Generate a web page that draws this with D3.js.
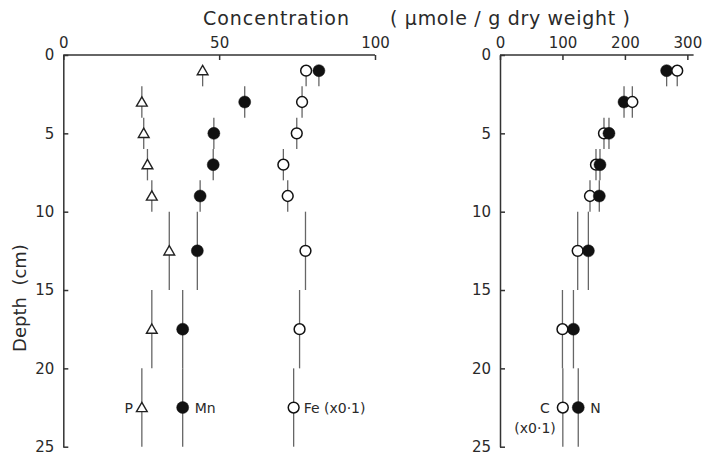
<!DOCTYPE html>
<html>
<head>
<meta charset="utf-8">
<script src="https://cdn.jsdelivr.net/npm/d3@7"></script>
<style>
  body { margin: 0; background: #fff; }
  svg { display: block; font-family: "DejaVu Sans", sans-serif; }
  .axis path, .axis line { stroke: #333; stroke-width: 1.5; }
  .axis text { font-size: 15px; fill: #2a2a2a; font-family: "DejaVu Sans", sans-serif; }
  .bar { stroke: #666; stroke-width: 1.3; }
  .lbl { font-size: 14px; fill: #2a2a2a; }
</style>
</head>
<body>
<div id="canvas"></div>
<script>
// depth of each slice (cm) and the slice it covers
const depth = [1, 3, 5, 7, 9, 12.5, 17.5, 22.5];
const depthTop = [0.7, 2, 4, 6, 8, 10, 15, 20];
const depthBottom = [2, 4, 6, 8, 10, 15, 20, 25];

// left panel (umole / g dry weight)
const P = [44.7, 25.2, 25.8, 27.0, 28.4, 34.0, 28.4, 25.2];
const Mn = [82.0, 58.2, 48.3, 48.1, 43.9, 43.0, 38.3, 38.3];
const Fe = [77.9, 76.6, 74.9, 70.6, 72.0, 77.7, 75.8, 73.9]; // x0.1

// right panel
const C = [283.8, 211.9, 166.5, 153.7, 144.1, 124.4, 100.0, 100.6]; // x0.1
const N = [266.8, 198.6, 174.5, 160.1, 159.0, 141.5, 117.6, 125.3];

const leftTicks = [0, 50, 100];
const rightTicks = [0, 100, 200, 300];
const depthTicks = [0, 5, 10, 15, 20, 25];

const width = 703;
const height = 458;

const svg = d3.select("#canvas").append("svg")
  .attr("width", width)
  .attr("height", height);

const y = d3.scaleLinear().domain([0, 25]).range([55, 446.7]);
const xL = d3.scaleLinear().domain([0, 100]).range([63.3, 375]);
const xR = d3.scaleLinear().domain([0, 310]).range([500, 693.6]);

// axes
function drawAxes(x, ticks) {
  svg.append("g")
    .attr("class", "axis")
    .attr("transform", `translate(0,${y(0)})`)
    .call(d3.axisTop(x).tickValues(ticks).tickSizeInner(-5).tickSizeOuter(0).tickPadding(7))
    .call(g => g.select(".domain").attr("d", `M${x.range()[0]},0H${x.range()[1]}`));

  svg.append("g")
    .attr("class", "axis")
    .attr("transform", `translate(${x.range()[0]},0)`)
    .call(d3.axisLeft(y).tickValues(depthTicks).tickSizeInner(-5).tickSizeOuter(0).tickPadding(9));
}
drawAxes(xL, leftTicks);
drawAxes(xR, rightTicks);

// depth error bars
function bars(x, vals) {
  svg.append("g").selectAll("line").data(vals).join("line")
    .attr("class", "bar")
    .attr("x1", d => x(d)).attr("x2", d => x(d))
    .attr("y1", (d, i) => y(depthTop[i]))
    .attr("y2", (d, i) => y(depthBottom[i]));
}
bars(xL, P);
bars(xL, Mn);
bars(xL, Fe);
bars(xR, C);
bars(xR, N);

// markers
const tri = d3.symbol().type(d3.symbolTriangle).size(50);
svg.append("g").selectAll("path").data(P).join("path")
  .attr("d", tri)
  .attr("transform", (d, i) => `translate(${xL(d)},${y(depth[i]) + 1})`)
  .attr("fill", "#fff").attr("stroke", "#222").attr("stroke-width", 1.4);

function dots(x, vals, filled) {
  svg.append("g").selectAll("circle").data(vals).join("circle")
    .attr("cx", d => x(d))
    .attr("cy", (d, i) => y(depth[i]))
    .attr("r", filled ? 6 : 5.4)
    .attr("fill", filled ? "#111" : "#fff")
    .attr("stroke", "#111")
    .attr("stroke-width", filled ? 0.5 : 1.5);
}
dots(xL, Mn, true);
dots(xL, Fe, false);

// right panel: the marker further right sits on top
const rightPts = [];
depth.forEach((d, i) => {
  rightPts.push({ v: C[i], d: d, filled: false });
  rightPts.push({ v: N[i], d: d, filled: true });
});
rightPts.sort((a, b) => a.v - b.v);
svg.append("g").selectAll("circle").data(rightPts).join("circle")
  .attr("cx", p => xR(p.v))
  .attr("cy", p => y(p.d))
  .attr("r", p => p.filled ? 6 : 5.4)
  .attr("fill", p => p.filled ? "#111" : "#fff")
  .attr("stroke", "#111")
  .attr("stroke-width", p => p.filled ? 0.5 : 1.5);

// series labels
const last = depth.length - 1;
const ly = y(depth[last]) + 5;
svg.append("text").attr("class", "lbl").attr("x", xL(P[last]) - 9).attr("y", ly)
  .attr("text-anchor", "end").text("P");
svg.append("text").attr("class", "lbl").attr("x", xL(Mn[last]) + 12).attr("y", ly).text("Mn");
svg.append("text").attr("class", "lbl").attr("x", xL(Fe[last]) + 10).attr("y", ly).text("Fe (x0·1)");
svg.append("text").attr("class", "lbl").attr("x", xR(C[last]) - 13).attr("y", ly)
  .attr("text-anchor", "end").text("C");
svg.append("text").attr("class", "lbl").attr("x", xR(C[last]) - 7).attr("y", ly + 20)
  .attr("text-anchor", "end").text("(x0·1)");
svg.append("text").attr("class", "lbl").attr("x", xR(N[last]) + 12).attr("y", ly).text("N");

// titles
svg.append("text").attr("x", 203).attr("y", 25)
  .attr("font-size", 19).attr("fill", "#2a2a2a")
  .attr("textLength", 146).attr("lengthAdjust", "spacing")
  .text("Concentration");
svg.append("text").attr("x", 390).attr("y", 25)
  .attr("font-size", 19).attr("fill", "#2a2a2a")
  .attr("textLength", 240).attr("lengthAdjust", "spacing")
  .text("( µmole / g dry weight )");

svg.append("text")
  .attr("transform", "translate(26,298) rotate(-90)")
  .attr("text-anchor", "middle")
  .attr("font-size", 18).attr("fill", "#2a2a2a")
  .style("white-space", "pre")
  .text("Depth  (cm)");
</script>
</body>
</html>
